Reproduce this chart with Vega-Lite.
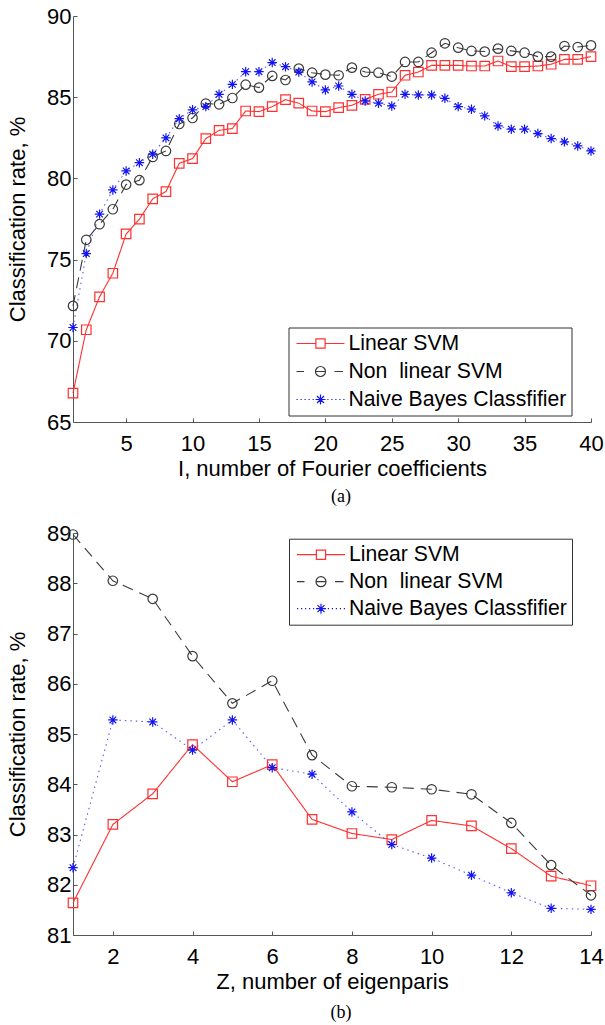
{
  "$schema": "https://vega.github.io/schema/vega-lite/v6.json",
  "background": "white",
  "padding": {"left": 6, "top": 5, "right": 5, "bottom": 0},
  "spacing": 16,
  "config": {
    "view": {"stroke": null},
    "font": "Liberation Sans",
    "axis": {
      "domainColor": "#555",
      "tickColor": "#555",
      "tickSize": -4,
      "labelFontSize": 22,
      "titleFontSize": 22,
      "titleFontWeight": "normal",
      "labelColor": "#000",
      "titleColor": "#000",
      "grid": false,
      "labelFont": "Liberation Sans",
      "titleFont": "Liberation Sans",
      "labelFlush": false,
      "labelOverlap": false
    },
    "axisX": {"labelPadding": 15, "titlePadding": 4},
    "axisY": {"labelPadding": 6, "titlePadding": 17},
    "title": {"font": "Liberation Serif", "fontSize": 18, "fontWeight": "normal", "color": "#000"}
  },
  "vconcat": [
    {
      "width": 518,
      "height": 406,
      "title": {"text": "(a)", "orient": "bottom", "frame": "group", "anchor": "middle", "dx": 9, "offset": 9},
      "data": {"values": [
        {"x":1,"lin":66.78,"non":72.15,"nb":70.82},
        {"x":2,"lin":70.68,"non":76.22,"nb":75.37},
        {"x":3,"lin":72.71,"non":77.18,"nb":77.8},
        {"x":4,"lin":74.16,"non":78.1,"nb":79.29},
        {"x":5,"lin":76.58,"non":79.62,"nb":80.46},
        {"x":6,"lin":77.49,"non":79.89,"nb":80.97},
        {"x":7,"lin":78.74,"non":81.32,"nb":81.49},
        {"x":8,"lin":79.19,"non":81.69,"nb":82.49},
        {"x":9,"lin":80.93,"non":83.35,"nb":83.68},
        {"x":10,"lin":81.22,"non":83.72,"nb":84.22},
        {"x":11,"lin":82.45,"non":84.61,"nb":84.42},
        {"x":12,"lin":82.96,"non":84.56,"nb":85.18},
        {"x":13,"lin":83.07,"non":84.95,"nb":85.79},
        {"x":14,"lin":84.15,"non":85.77,"nb":86.57},
        {"x":15,"lin":84.11,"non":85.59,"nb":86.57},
        {"x":16,"lin":84.42,"non":86.31,"nb":87.13},
        {"x":17,"lin":84.85,"non":86.06,"nb":86.88},
        {"x":18,"lin":84.63,"non":86.76,"nb":86.55},
        {"x":19,"lin":84.15,"non":86.51,"nb":85.94},
        {"x":20,"lin":84.11,"non":86.39,"nb":85.45},
        {"x":21,"lin":84.36,"non":86.35,"nb":85.69},
        {"x":22,"lin":84.5,"non":86.82,"nb":85.18},
        {"x":23,"lin":84.87,"non":86.55,"nb":84.77},
        {"x":24,"lin":85.18,"non":86.51,"nb":84.63},
        {"x":25,"lin":85.32,"non":86.27,"nb":84.46},
        {"x":26,"lin":86.35,"non":87.17,"nb":85.18},
        {"x":27,"lin":86.55,"non":87.17,"nb":85.14},
        {"x":28,"lin":86.96,"non":87.74,"nb":85.14},
        {"x":29,"lin":86.96,"non":88.32,"nb":84.93},
        {"x":30,"lin":86.96,"non":88.05,"nb":84.42},
        {"x":31,"lin":86.92,"non":87.85,"nb":84.26},
        {"x":32,"lin":86.92,"non":87.81,"nb":83.85},
        {"x":33,"lin":87.23,"non":87.99,"nb":83.23},
        {"x":34,"lin":86.88,"non":87.85,"nb":83.03},
        {"x":35,"lin":86.88,"non":87.74,"nb":83.03},
        {"x":36,"lin":86.92,"non":87.5,"nb":82.76},
        {"x":37,"lin":87.03,"non":87.5,"nb":82.45},
        {"x":38,"lin":87.33,"non":88.15,"nb":82.25},
        {"x":39,"lin":87.33,"non":88.09,"nb":82.0},
        {"x":40,"lin":87.5,"non":88.19,"nb":81.69}
      ]},
      "transform": [{"fold": ["lin", "non", "nb"], "as": ["method", "rate"]}],
      "resolve": {"scale": {"color": "independent", "shape": "independent", "strokeDash": "independent"}},
      "encoding": {
        "x": {"field": "x", "type": "quantitative", "scale": {"domain": [1, 40], "nice": false, "zero": false}, "axis": {"title": "I, number of Fourier coefficients", "values": [5, 10, 15, 20, 25, 30, 35, 40]}},
        "y": {"field": "rate", "type": "quantitative", "scale": {"domain": [65, 90], "nice": false, "zero": false}, "axis": {"title": "Classification rate, %", "values": [65, 70, 75, 80, 85, 90]}}
      },
      "layer": [
        {
          "mark": {"type": "line", "strokeWidth": 1.1},
          "encoding": {
            "color": {"field": "method", "type": "nominal", "scale": {"domain": ["lin", "non", "nb"], "range": ["#ff3030", "#3a3a3a", "#5a5aff"]}, "legend": null},
            "strokeDash": {"field": "method", "type": "nominal", "scale": {"domain": ["lin", "non", "nb"], "range": [[1, 0], [11, 7], [1.5, 4]]}, "legend": null}
          }
        },
        {
          "mark": {"type": "point", "filled": false, "size": 90, "opacity": 1, "strokeWidth": 1.2},
          "encoding": {
            "color": {"field": "method", "type": "nominal", "scale": {"domain": ["lin", "non", "nb"], "range": ["#ff3030", "#3a3a3a", "#1414f0"]}, "legend": null},
            "shape": {"field": "method", "type": "nominal", "scale": {"domain": ["lin", "non", "nb"], "range": ["square", "circle", "M-1,0H1M0,-1V1M-0.7,-0.7L0.7,0.7M-0.7,0.7L0.7,-0.7"]}, "legend": null}
          }
        },
        {
          "transform": [{"filter": "false"}],
          "mark": {"type": "point", "filled": false, "opacity": 1},
          "encoding": {
            "color": {"field": "method", "type": "nominal", "scale": {"domain": ["lin", "non", "nb"], "range": ["#ff3030", "#3a3a3a", "#1414f0"]},
              "legend": {"orient": "none", "legendX": 215.5, "legendY": 311.5, "title": null, "strokeColor": "#333", "fillColor": "white", "padding": 5, "labelFontSize": 21.2, "labelFont": "Liberation Sans", "labelColor": "#000", "labelLimit": 400, "symbolSize": 400, "symbolStrokeWidth": 1.2, "symbolOffset": 16, "labelOffset": 17, "rowPadding": 6,
                "labelExpr": "datum.value == 'lin' ? 'Linear SVM' : datum.value == 'non' ? 'Non\u00a0 linear SVM' : 'Naive Bayes Classfifier'"}},
            "shape": {"field": "method", "type": "nominal", "scale": {"domain": ["lin", "non", "nb"], "range": [
                "M-2.4,0H-0.46M0.46,0H2.4M-0.46,-0.46H0.46V0.46H-0.46Z",
                "M-2.4,0H-1.65M1.4,0H2.25M-0.5,0H0.5M0.5,0A0.5,0.5 0 1,1 -0.5,0A0.5,0.5 0 1,1 0.5,0Z",
                "M-2.4,0H-2.28M-2,0H-1.88M-1.6,0H-1.48M-1.2,0H-1.08M-0.8,0H-0.68M0.68,0H0.8M1.08,0H1.2M1.48,0H1.6M1.88,0H2M2.28,0H2.4M-0.5,0H0.5M0,-0.5V0.5M-0.35,-0.35L0.35,0.35M-0.35,0.35L0.35,-0.35"]},
              "legend": {"orient": "none", "legendX": 215.5, "legendY": 311.5, "title": null, "strokeColor": "#333", "fillColor": "white", "padding": 5, "labelFontSize": 21.2, "labelFont": "Liberation Sans", "labelColor": "#000", "labelLimit": 400, "symbolSize": 400, "symbolStrokeWidth": 1.2, "symbolOffset": 16, "labelOffset": 17, "rowPadding": 6,
                "labelExpr": "datum.value == 'lin' ? 'Linear SVM' : datum.value == 'non' ? 'Non\u00a0 linear SVM' : 'Naive Bayes Classfifier'"}}
          }
        }
      ]
    },
    {
      "width": 518,
      "height": 402,
      "title": {"text": "(b)", "orient": "bottom", "frame": "group", "anchor": "middle", "dx": 9, "offset": 12},
      "data": {"values": [
        {"x":1,"lin":81.64,"non":88.97,"nb":82.34},
        {"x":2,"lin":83.2,"non":88.05,"nb":85.28},
        {"x":3,"lin":83.81,"non":87.69,"nb":85.24},
        {"x":4,"lin":84.79,"non":86.55,"nb":84.68},
        {"x":5,"lin":84.05,"non":85.61,"nb":85.28},
        {"x":6,"lin":84.39,"non":86.06,"nb":84.33},
        {"x":7,"lin":83.3,"non":84.58,"nb":84.2},
        {"x":8,"lin":83.02,"non":83.96,"nb":83.45},
        {"x":9,"lin":82.9,"non":83.94,"nb":82.8},
        {"x":10,"lin":83.28,"non":83.9,"nb":82.53},
        {"x":11,"lin":83.17,"non":83.8,"nb":82.19},
        {"x":12,"lin":82.72,"non":83.23,"nb":81.84},
        {"x":13,"lin":82.17,"non":82.39,"nb":81.53},
        {"x":14,"lin":81.98,"non":81.79,"nb":81.51}
      ]},
      "transform": [{"fold": ["lin", "non", "nb"], "as": ["method", "rate"]}],
      "resolve": {"scale": {"color": "independent", "shape": "independent", "strokeDash": "independent"}},
      "encoding": {
        "x": {"field": "x", "type": "quantitative", "scale": {"domain": [1, 14], "nice": false, "zero": false}, "axis": {"title": "Z, number of eigenparis", "values": [2, 4, 6, 8, 10, 12, 14]}},
        "y": {"field": "rate", "type": "quantitative", "scale": {"domain": [81, 89], "nice": false, "zero": false}, "axis": {"title": "Classification rate, %", "values": [81, 82, 83, 84, 85, 86, 87, 88, 89]}}
      },
      "layer": [
        {
          "mark": {"type": "line", "strokeWidth": 1.1},
          "encoding": {
            "color": {"field": "method", "type": "nominal", "scale": {"domain": ["lin", "non", "nb"], "range": ["#ff3030", "#3a3a3a", "#5a5aff"]}, "legend": null},
            "strokeDash": {"field": "method", "type": "nominal", "scale": {"domain": ["lin", "non", "nb"], "range": [[1, 0], [11, 7], [1.5, 4]]}, "legend": null}
          }
        },
        {
          "mark": {"type": "point", "filled": false, "size": 90, "opacity": 1, "strokeWidth": 1.2},
          "encoding": {
            "color": {"field": "method", "type": "nominal", "scale": {"domain": ["lin", "non", "nb"], "range": ["#ff3030", "#3a3a3a", "#1414f0"]}, "legend": null},
            "shape": {"field": "method", "type": "nominal", "scale": {"domain": ["lin", "non", "nb"], "range": ["square", "circle", "M-1,0H1M0,-1V1M-0.7,-0.7L0.7,0.7M-0.7,0.7L0.7,-0.7"]}, "legend": null}
          }
        },
        {
          "transform": [{"filter": "false"}],
          "mark": {"type": "point", "filled": false, "opacity": 1},
          "encoding": {
            "color": {"field": "method", "type": "nominal", "scale": {"domain": ["lin", "non", "nb"], "range": ["#ff3030", "#3a3a3a", "#1414f0"]},
              "legend": {"orient": "none", "legendX": 216, "legendY": 5.7, "title": null, "strokeColor": "#333", "fillColor": "white", "padding": 5, "labelFontSize": 21.2, "labelFont": "Liberation Sans", "labelColor": "#000", "labelLimit": 400, "symbolSize": 400, "symbolStrokeWidth": 1.2, "symbolOffset": 16, "labelOffset": 17, "rowPadding": 5,
                "labelExpr": "datum.value == 'lin' ? 'Linear SVM' : datum.value == 'non' ? 'Non\u00a0 linear SVM' : 'Naive Bayes Classfifier'"}},
            "shape": {"field": "method", "type": "nominal", "scale": {"domain": ["lin", "non", "nb"], "range": [
                "M-2.4,0H-0.46M0.46,0H2.4M-0.46,-0.46H0.46V0.46H-0.46Z",
                "M-2.4,0H-1.65M1.4,0H2.25M-0.5,0H0.5M0.5,0A0.5,0.5 0 1,1 -0.5,0A0.5,0.5 0 1,1 0.5,0Z",
                "M-2.4,0H-2.28M-2,0H-1.88M-1.6,0H-1.48M-1.2,0H-1.08M-0.8,0H-0.68M0.68,0H0.8M1.08,0H1.2M1.48,0H1.6M1.88,0H2M2.28,0H2.4M-0.5,0H0.5M0,-0.5V0.5M-0.35,-0.35L0.35,0.35M-0.35,0.35L0.35,-0.35"]},
              "legend": {"orient": "none", "legendX": 216, "legendY": 5.7, "title": null, "strokeColor": "#333", "fillColor": "white", "padding": 5, "labelFontSize": 21.2, "labelFont": "Liberation Sans", "labelColor": "#000", "labelLimit": 400, "symbolSize": 400, "symbolStrokeWidth": 1.2, "symbolOffset": 16, "labelOffset": 17, "rowPadding": 5,
                "labelExpr": "datum.value == 'lin' ? 'Linear SVM' : datum.value == 'non' ? 'Non\u00a0 linear SVM' : 'Naive Bayes Classfifier'"}}
          }
        }
      ]
    }
  ]
}
